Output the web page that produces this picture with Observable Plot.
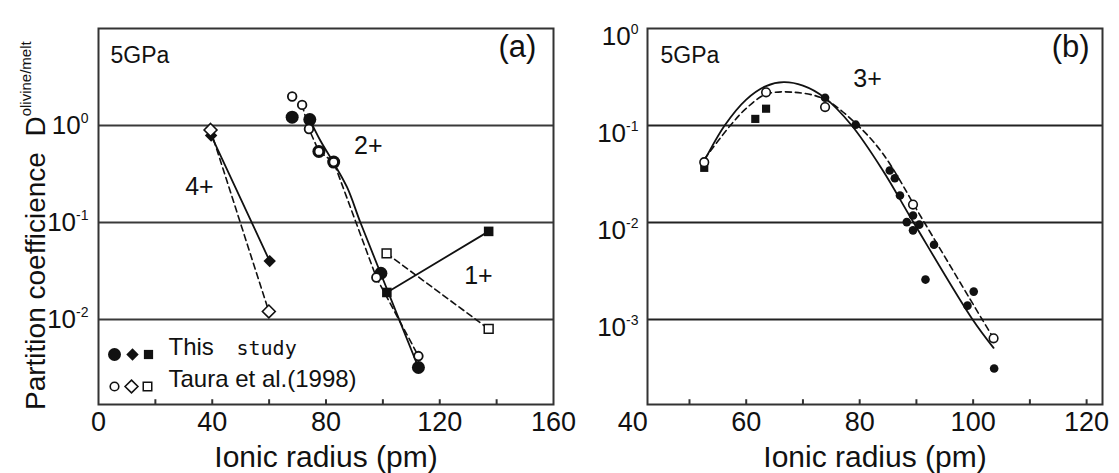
<!DOCTYPE html>
<html>
<head>
<meta charset="utf-8">
<script src="https://cdn.jsdelivr.net/npm/d3@7"></script>
<script src="https://cdn.jsdelivr.net/npm/@observablehq/plot@0.6"></script>
<style>
  html, body { margin: 0; padding: 0; background: #fff; }
  #wrap { display: flex; width: 1119px; height: 473px; }
  svg text { white-space: pre; }
</style>
</head>
<body>
<div id="wrap"></div>
<script>
// ---------- Panel (a) data : [ionic radius (pm), D] ----------
const a4This  = [[39.6, 0.79], [60.2, 0.040]];
const a4Taura = [[39.4, 0.90], [59.9, 0.0121]];
const a2This  = [[68.1, 1.22], [74.3, 1.15], [77.5, 0.54], [82.7, 0.42], [99.3, 0.030], [112.5, 0.0032]];
const a2Taura = [[68.1, 1.99], [71.6, 1.63], [74.0, 0.92], [77.5, 0.54], [82.7, 0.42], [97.7, 0.0271], [112.5, 0.0042]];
const a1This  = [[101.4, 0.019], [137.2, 0.081]];
const a1Taura = [[101.3, 0.048], [137.2, 0.0080]];
const a2ThisFit  = [[74.3, 1.15], [78.0, 0.70], [82.2, 0.435], [87.4, 0.231], [92.1, 0.10], [99.2, 0.030], [112.5, 0.0032]];
const a2TauraFit = [[71.6, 1.63], [74.0, 0.92], [77.5, 0.54], [82.7, 0.42], [97.7, 0.0271], [112.5, 0.0042]];

// ---------- Panel (b) data ----------
const b3ThisCircles = [[73.9, 0.193], [79.3, 0.102], [85.3, 0.0344], [86.2, 0.0286], [87.1, 0.019], [88.3, 0.0101],
  [89.4, 0.0118], [90.5, 0.0095], [89.4, 0.0083], [93.1, 0.0059], [91.6, 0.00258], [100.1, 0.00194], [99.0, 0.00139], [103.7, 0.000313]];
const b3ThisSquares = [[52.6, 0.0366], [61.6, 0.117], [63.5, 0.149]];
const b3Taura = [[52.6, 0.0419], [63.5, 0.220], [73.9, 0.155], [89.4, 0.0153], [103.6, 0.00064]];
const b3ThisFit = [[52.5, 0.042], [56.2, 0.10], [60, 0.185], [63.5, 0.255], [66.6, 0.28], [70, 0.258], [73.7, 0.196],
  [78.6, 0.10], [84, 0.035], [89.5, 0.010], [99.9, 0.0010], [103.6, 0.00051]];
const b3TauraFit = [[52.6, 0.045], [57.2, 0.10], [60, 0.15], [63.5, 0.21], [68.4, 0.22], [73.7, 0.188], [79.3, 0.105],
  [84, 0.052], [91.4, 0.010], [101.6, 0.0010], [103.6, 0.00064]];

// ---------- axes / ticks ----------
const xDomA = [0, 160], yDomA = [0.00133, 10];
const xDomB = [42.6, 122.8], yDomB = [0.000133, 1];
const xTicksA = [0, 40, 80, 120, 160];
const xMinorA = [20, 40, 60, 80, 100, 120, 140];
const xTicksB = [40, 60, 80, 100, 120];
const xMinorB = [50, 60, 70, 80, 90, 100, 110, 120];
const yTicksA = [1, 0.1, 0.01];
const yTicksB = [1, 0.1, 0.01, 0.001];
const gridA = [1, 0.1, 0.01];
const gridB = [0.1, 0.01, 0.001];

// ---------- annotations ----------
const labelsA = [
  {text: "4+", r: 35.5, D: 0.23}, {text: "2+", r: 94.9, D: 0.62}, {text: "1+", r: 133.6, D: 0.0284}
];
const panelA = [{text: "(a)", r: 147.3, D: 6.4}];
const pressA = [{text: "5GPa", r: 4.2, D: 5.25}];
const labelsB = [{text: "3+", r: 81.4, D: 0.305}];
const panelB = [{text: "(b)", r: 117.2, D: 0.64}];
const pressB = [{text: "5GPa", r: 44.9, D: 0.527}];
const xTitle = "Ionic radius (pm)";
const yTitle = "Partition coefficience  D", yTitleSup = "olivine/melt";
const legendThis = "This", legendStudy = "study", legendTaura = "Taura et al.(1998)";

const FONT = "'Liberation Sans', Arial, Helvetica, sans-serif";
const INK = "#111";
const pts = arr => arr.map(([r, D]) => ({r, D}));
const supFmt = d => "10^" + Math.round(Math.log10(d));

function superscripts(svg, size, shift) {
  d3.select(svg).selectAll('g[aria-label="y-axis tick label"] text').each(function () {
    const m = /^10\^(.+)$/.exec(this.textContent);
    if (!m) return;
    const s = d3.select(this);
    s.text(null);
    s.append("tspan").text("10");
    s.append("tspan").attr("font-size", size).attr("dy", shift).text(m[1]);
  });
}

// ---------------- Panel (a) ----------------
const dash = "6,4";
const chartA = Plot.plot({
  width: 600, height: 473,
  marginLeft: 98, marginRight: 47, marginTop: 28, marginBottom: 69,
  style: {fontFamily: FONT, background: "#fff", color: INK},
  x: {domain: xDomA},
  y: {type: "log", domain: yDomA},
  marks: [
    Plot.ruleY(gridA, {y: d => d, stroke: "#3a3a3a", strokeWidth: 1.8}),
    Plot.ruleX(xMinorA, {x: d => d, y1: yDomA[0], y2: yDomA[0] * 1.12, stroke: "#333", strokeWidth: 2}),
    Plot.frame({stroke: "#333", strokeWidth: 2}),
    Plot.axisX({ticks: xTicksA, tickSize: 0, tickPadding: 7, fontSize: 27, label: null}),
    Plot.axisY({ticks: yTicksA, tickSize: 0, tickPadding: 10, fontSize: 26, label: null, tickFormat: supFmt}),
    Plot.text([xTitle], {frameAnchor: "bottom", lineAnchor: "bottom", dy: 62, text: d => d, fontSize: 30}),
    // lines
    Plot.line(pts(a4This), {x: "r", y: "D", stroke: INK, strokeWidth: 1.8}),
    Plot.line(pts(a4Taura), {x: "r", y: "D", stroke: INK, strokeWidth: 1.6, strokeDasharray: dash}),
    Plot.line(pts(a2ThisFit), {x: "r", y: "D", stroke: INK, strokeWidth: 1.8, curve: "catmull-rom"}),
    Plot.line(pts(a2TauraFit), {x: "r", y: "D", stroke: INK, strokeWidth: 1.6, strokeDasharray: dash}),
    Plot.line(pts(a1This), {x: "r", y: "D", stroke: INK, strokeWidth: 1.8}),
    Plot.line(pts(a1Taura), {x: "r", y: "D", stroke: INK, strokeWidth: 1.6, strokeDasharray: dash}),
    // this study (filled)
    Plot.dot(pts(a2This), {x: "r", y: "D", r: 6.5, fill: INK}),
    Plot.dot(pts(a4This), {x: "r", y: "D", symbol: "diamond2", r: 5.6, fill: INK}),
    Plot.dot(pts(a1This), {x: "r", y: "D", symbol: "square", r: 5.4, fill: INK}),
    // Taura et al. (open)
    Plot.dot(pts(a2Taura), {x: "r", y: "D", r: 4.3, fill: "#fff", stroke: INK, strokeWidth: 1.8}),
    Plot.dot(pts(a4Taura), {x: "r", y: "D", symbol: "diamond2", r: 5.8, fill: "#fff", stroke: INK, strokeWidth: 1.6}),
    Plot.dot(pts(a1Taura), {x: "r", y: "D", symbol: "square", r: 5.0, fill: "#fff", stroke: INK, strokeWidth: 1.5}),
    // annotations
    Plot.text(labelsA, {x: "r", y: "D", text: "text", fontSize: 25}),
    Plot.text(panelA, {x: "r", y: "D", text: "text", fontSize: 31}),
    Plot.text(pressA, {x: "r", y: "D", text: "text", fontSize: 23, textAnchor: "start"}),
    // legend
    Plot.dot([0], {frameAnchor: "bottom-left", dx: 16, dy: -50, r: 6.5, fill: INK}),
    Plot.dot([0], {frameAnchor: "bottom-left", dx: 34, dy: -50, symbol: "diamond2", r: 5.6, fill: INK}),
    Plot.dot([0], {frameAnchor: "bottom-left", dx: 50, dy: -50, symbol: "square", r: 5.2, fill: INK}),
    Plot.dot([0], {frameAnchor: "bottom-left", dx: 16, dy: -18, r: 4.3, fill: "#fff", stroke: INK, strokeWidth: 1.6}),
    Plot.dot([0], {frameAnchor: "bottom-left", dx: 33, dy: -18, symbol: "diamond2", r: 5.8, fill: "#fff", stroke: INK, strokeWidth: 1.6}),
    Plot.dot([0], {frameAnchor: "bottom-left", dx: 49, dy: -18, symbol: "square", r: 4.8, fill: "#fff", stroke: INK, strokeWidth: 1.5}),
    Plot.text([legendThis], {frameAnchor: "bottom-left", dx: 70, dy: -50, text: d => d, fontSize: 24, textAnchor: "start"}),
    Plot.text([legendStudy], {frameAnchor: "bottom-left", dx: 138, dy: -50, text: d => d, fontSize: 20, textAnchor: "start", fontFamily: "'DejaVu Sans Mono', monospace"}),
    Plot.text([legendTaura], {frameAnchor: "bottom-left", dx: 70, dy: -18, text: d => d, fontSize: 24, textAnchor: "start"})
  ]
});
superscripts(chartA, 14, -11);
{
  const t = d3.select(chartA).append("text")
    .attr("transform", "translate(45,410) rotate(-90)")
    .attr("text-anchor", "start")
    .attr("font-family", FONT).attr("font-size", 28).attr("fill", INK)
    .style("white-space", "pre");
  t.append("tspan").text(yTitle);
  t.append("tspan").attr("font-size", 15).attr("dy", -14).text(yTitleSup);
}

// ---------------- Panel (b) ----------------
const chartB = Plot.plot({
  width: 519, height: 473,
  marginLeft: 47, marginRight: 17, marginTop: 28, marginBottom: 69,
  style: {fontFamily: FONT, background: "#fff", color: INK, overflow: "visible"},
  x: {domain: xDomB},
  y: {type: "log", domain: yDomB},
  marks: [
    Plot.ruleY(gridB, {y: d => d, stroke: "#222", strokeWidth: 2}),
    Plot.ruleX(xMinorB, {x: d => d, y1: yDomB[0], y2: yDomB[0] * 1.12, stroke: "#333", strokeWidth: 2}),
    Plot.frame({stroke: "#333", strokeWidth: 2}),
    Plot.axisX({ticks: xTicksB, tickSize: 0, tickPadding: 7, fontSize: 27, label: null}),
    Plot.axisY({ticks: yTicksB, tickSize: 0, tickPadding: 9, fontSize: 26, dy: 8, label: null, tickFormat: supFmt}),
    Plot.text([xTitle], {frameAnchor: "bottom", lineAnchor: "bottom", dy: 62, text: d => d, fontSize: 30}),
    Plot.line(pts(b3ThisFit), {x: "r", y: "D", stroke: INK, strokeWidth: 1.8, curve: "catmull-rom"}),
    Plot.line(pts(b3TauraFit), {x: "r", y: "D", stroke: INK, strokeWidth: 1.6, strokeDasharray: dash, curve: "catmull-rom"}),
    Plot.dot(pts(b3ThisCircles), {x: "r", y: "D", r: 4.3, fill: INK}),
    Plot.dot(pts(b3ThisSquares), {x: "r", y: "D", symbol: "square", r: 4.6, fill: INK}),
    Plot.dot(pts(b3Taura), {x: "r", y: "D", r: 4.3, fill: "#fff", stroke: INK, strokeWidth: 1.6}),
    Plot.text(labelsB, {x: "r", y: "D", text: "text", fontSize: 25}),
    Plot.text(panelB, {x: "r", y: "D", text: "text", fontSize: 31}),
    Plot.text(pressB, {x: "r", y: "D", text: "text", fontSize: 23, textAnchor: "start"})
  ]
});
superscripts(chartB, 14, -11);

document.getElementById("wrap").append(chartA, chartB);
</script>
</body>
</html>
